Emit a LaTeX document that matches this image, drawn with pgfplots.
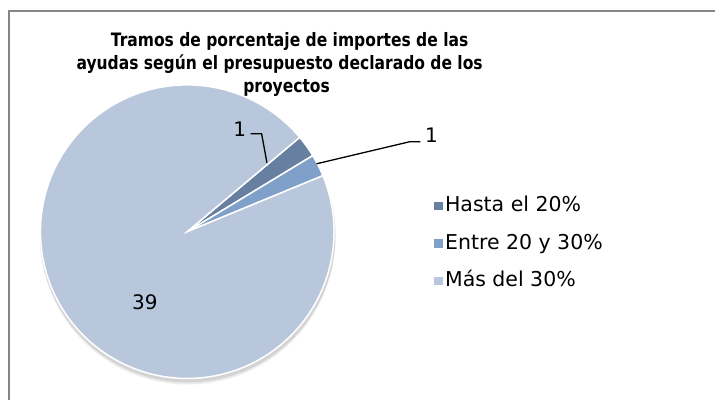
\documentclass[border=0pt]{standalone}
\usepackage{pgfplots}
\pgfplotsset{compat=1.18}
\usepackage{pgfplotstable}
\usepackage{fontspec}
\setmainfont{DejaVu Sans}
\newfontfamily\titlefont[FakeStretch=0.84]{DejaVu Sans}

\definecolor{cA}{RGB}{103,127,160}
\definecolor{cB}{RGB}{127,160,200}
\definecolor{cC}{RGB}{185,199,221}
\definecolor{frm}{RGB}{134,134,134}

\pgfplotstableread{
label value
Hasta 1
Entre 1
Mas 39
}\piedata

\pgfplotstablegetelem{0}{value}\of\piedata \let\vA\pgfplotsretval
\pgfplotstablegetelem{1}{value}\of\piedata \let\vB\pgfplotsretval
\pgfplotstablegetelem{2}{value}\of\piedata \let\vC\pgfplotsretval
\pgfmathsetmacro\tot{\vA+\vB+\vC}
\pgfmathsetmacro\aS{40}
\pgfmathsetmacro\aA{\aS-360*\vA/\tot}
\pgfmathsetmacro\aB{\aA-360*\vB/\tot}
\pgfmathsetmacro\aC{\aB-360*\vC/\tot}
\def\cx{187.5}
\def\cy{169}
\def\R{147}

\begin{document}
\begin{tikzpicture}
\begin{axis}[
  scale only axis, width=716pt, height=401pt,
  xmin=0, xmax=716, ymin=0, ymax=401,
  hide axis, clip=false,
  legend style={at={(axis cs:430,157)}, anchor=west, draw=none, fill=none,
    font=\fontsize{20.5}{24}\selectfont, row sep=16.5pt,
    nodes={inner sep=1pt, text height=15pt, text depth=4pt}},
  legend cell align=left,
  legend image code/.code={\fill[#1] (0pt,-5pt) rectangle (10pt,5pt);},
]
% frame
\path (axis cs:0,0) rectangle (axis cs:716,401);
\draw[frm, line width=2pt] (axis cs:9,0) -- (axis cs:9,390) -- (axis cs:716,390);
% shadow
\addplot[fill=black, draw=none, opacity=0.10, domain=0:360, samples=90, variable=\t, forget plot]
  ({\cx+0.5+(\R+1)*cos(\t)},{\cy-3+(\R+1)*sin(\t)});
\addplot[fill=black, draw=none, opacity=0.08, domain=0:360, samples=90, variable=\t, forget plot]
  ({\cx+0.5+(\R+1)*cos(\t)},{\cy-5+(\R+1)*sin(\t)});
% slices
\addplot[fill=cA, draw=white, line width=1.5pt, domain=\aA:\aS, samples=20, variable=\t]
  ({\cx+\R*cos(\t)},{\cy+\R*sin(\t)}) -- (axis cs:\cx,\cy) -- cycle;
\addlegendentry{Hasta el 20\%}
\addplot[fill=cB, draw=white, line width=1.5pt, domain=\aB:\aA, samples=20, variable=\t]
  ({\cx+\R*cos(\t)},{\cy+\R*sin(\t)}) -- (axis cs:\cx,\cy) -- cycle;
\addlegendentry{Entre 20 y 30\%}
\addplot[fill=cC, draw=white, line width=1.5pt, domain=\aC:\aB, samples=200, variable=\t]
  ({\cx+\R*cos(\t)},{\cy+\R*sin(\t)}) -- (axis cs:\cx,\cy) -- cycle;
\addlegendentry{Más del 30\%}
% leader lines and labels
\draw[black, line width=1.3pt] (axis cs:251,267) -- (axis cs:262,267) -- (axis cs:267.3,238);
\draw[black, line width=1.3pt] (axis cs:317,237) -- (axis cs:410,259) -- (axis cs:421,259);
\node[font=\fontsize{20}{24}\selectfont] at (axis cs:240,272) {1};
\node[font=\fontsize{20}{24}\selectfont] at (axis cs:432,266) {1};
\node[font=\fontsize{20}{24}\selectfont] at (axis cs:145,98) {39};
% title
\node[font=\titlefont\bfseries\fontsize{18.5}{23}\selectfont, anchor=base] at (axis cs:290,354) {Tramos de porcentaje de importes de las};
\node[font=\titlefont\bfseries\fontsize{18.5}{23}\selectfont, anchor=base] at (axis cs:280,331) {ayudas según el presupuesto declarado de los};
\node[font=\titlefont\bfseries\fontsize{18.5}{23}\selectfont, anchor=base] at (axis cs:287,308) {proyectos};
\end{axis}
\end{tikzpicture}
\end{document}
